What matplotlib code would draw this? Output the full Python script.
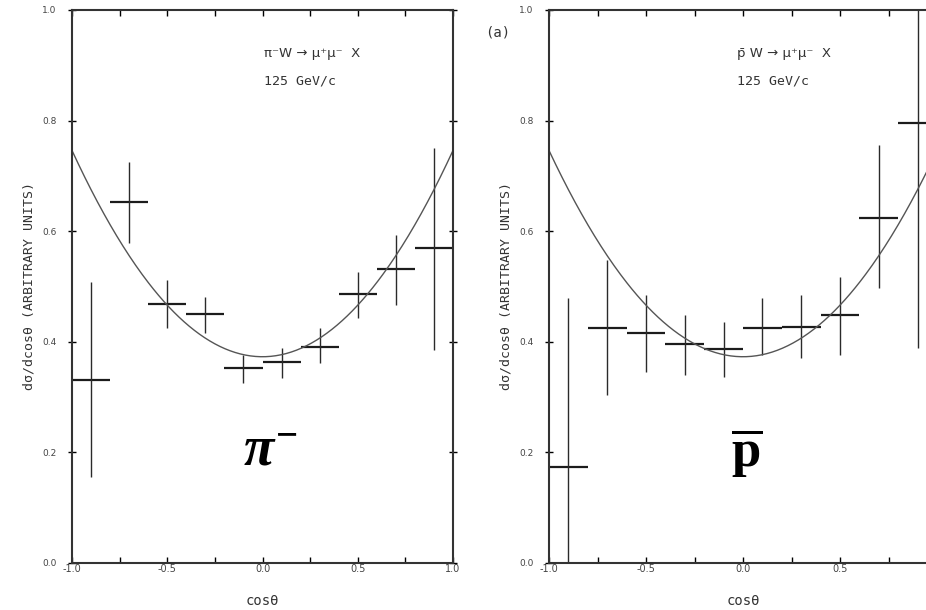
import numpy as np
import matplotlib.pyplot as plt
from matplotlib.ticker import MultipleLocator, FormatStrFormatter

# bin centres in cos(theta), each bin 0.2 wide
cos_theta = [-0.9, -0.7, -0.5, -0.3, -0.1, 0.1, 0.3, 0.5, 0.7, 0.9]
bin_halfwidth = 0.1

# pi- W -> mu+ mu- X, 125 GeV/c
pim_val = [0.331, 0.653, 0.468, 0.450, 0.352, 0.363, 0.391, 0.486, 0.532, 0.570]
pim_lo = [0.156, 0.579, 0.425, 0.416, 0.326, 0.335, 0.362, 0.443, 0.467, 0.385]
pim_hi = [0.508, 0.725, 0.512, 0.481, 0.376, 0.389, 0.425, 0.526, 0.593, 0.750]

# pbar W -> mu+ mu- X, 125 GeV/c
pbar_val = [0.174, 0.425, 0.416, 0.396, 0.387, 0.425, 0.427, 0.448, 0.624, 0.796]
pbar_lo = [-0.05, 0.304, 0.345, 0.340, 0.336, 0.376, 0.371, 0.376, 0.497, 0.389]
pbar_hi = [0.479, 0.548, 0.485, 0.448, 0.436, 0.479, 0.485, 0.517, 0.756, 1.05]

# fitted curve  N (1 + lambda cos^2 theta)
fit_norm = 0.373
fit_lambda = 1.0

W, H = 926, 610
ink = "#1c1c1c"
mono = ["DejaVu Sans Mono", "DejaVu Sans"]
plt.rcParams["axes.unicode_minus"] = False
plt.rcParams["mathtext.fontset"] = "custom"
plt.rcParams["mathtext.rm"] = "Liberation Serif:bold"
plt.rcParams["mathtext.bf"] = "Liberation Serif:bold"
plt.rcParams["mathtext.it"] = "Liberation Serif:bold:italic"


def px(x, y):
    # pixel position -> figure fraction
    return x / W, 1 - y / H


def draw_panel(ax, vals, lo, hi, reaction, text_x):
    x = np.array(cos_theta)
    ax.hlines(vals, x - bin_halfwidth, x + bin_halfwidth, color=ink, lw=1.6)
    ax.vlines(x, lo, hi, color="#2a2a2a", lw=1.0)
    xs = np.linspace(-1, 1, 300)
    ax.plot(xs, fit_norm * (1 + fit_lambda * xs ** 2), color="#555555", lw=1.0)

    ax.set_xlim(-1, 1)
    ax.set_ylim(0, 1)
    ax.xaxis.set_major_locator(MultipleLocator(0.5))
    ax.xaxis.set_minor_locator(MultipleLocator(0.25))
    ax.yaxis.set_major_locator(MultipleLocator(0.2))
    ax.xaxis.set_major_formatter(FormatStrFormatter("%.1f"))
    ax.yaxis.set_major_formatter(FormatStrFormatter("%.1f"))
    ax.tick_params(axis="x", which="both", direction="in", top=True,
                   length=4, width=1, labelsize=7, labelcolor="#444444", pad=1)
    ax.tick_params(axis="y", which="major", direction="inout", right=True,
                   length=6, width=1, labelsize=6.5, labelcolor="#444444", pad=8)
    for s in ax.spines.values():
        s.set_linewidth(1.5)
        s.set_color("#333333")

    ax.set_xlabel("cosθ", fontsize=10, family=mono, color="#333333", labelpad=14)
    ax.set_ylabel("dσ/dcosθ (ARBITRARY UNITS)", fontsize=9.5, family=mono,
                  color="#333333", labelpad=5)
    ax.text(text_x, 0.915, reaction, fontsize=9.5, family="DejaVu Sans", color="#333333")
    ax.text(text_x, 0.865, "125 GeV/c", fontsize=9.5, family=mono, color="#333333")


fig = plt.figure(figsize=(W / 100, H / 100), dpi=100)

l0, b0 = px(72, 563)
ax1 = fig.add_axes([l0, b0, 381 / W, 553 / H])
draw_panel(ax1, pim_val, pim_lo, pim_hi, "π⁻W → μ⁺μ⁻  X", 0.01)

l1, b1 = px(549, 563)
ax2 = fig.add_axes([l1, b1, 388 / W, 553 / H])
draw_panel(ax2, pbar_val, pbar_lo, pbar_hi, "p̄ W → μ⁺μ⁻  X", -0.03)
# the right edge of this panel is cut off in the scan
ax2.set_xticks([-1.0, -0.5, 0.0, 0.5])

fig.text(*px(498, 37), "(a)", fontsize=10, family=mono, color="#333333", ha="center")

fig.text(*px(270, 466), r"$\pi^{-}$", fontsize=40, ha="center", va="baseline", color="black")
fig.text(*px(747, 467), r"$\overline{\mathbf{p}}$", fontsize=38, ha="center", va="baseline",
         color="black")

fig.savefig("out.png", dpi=100)
